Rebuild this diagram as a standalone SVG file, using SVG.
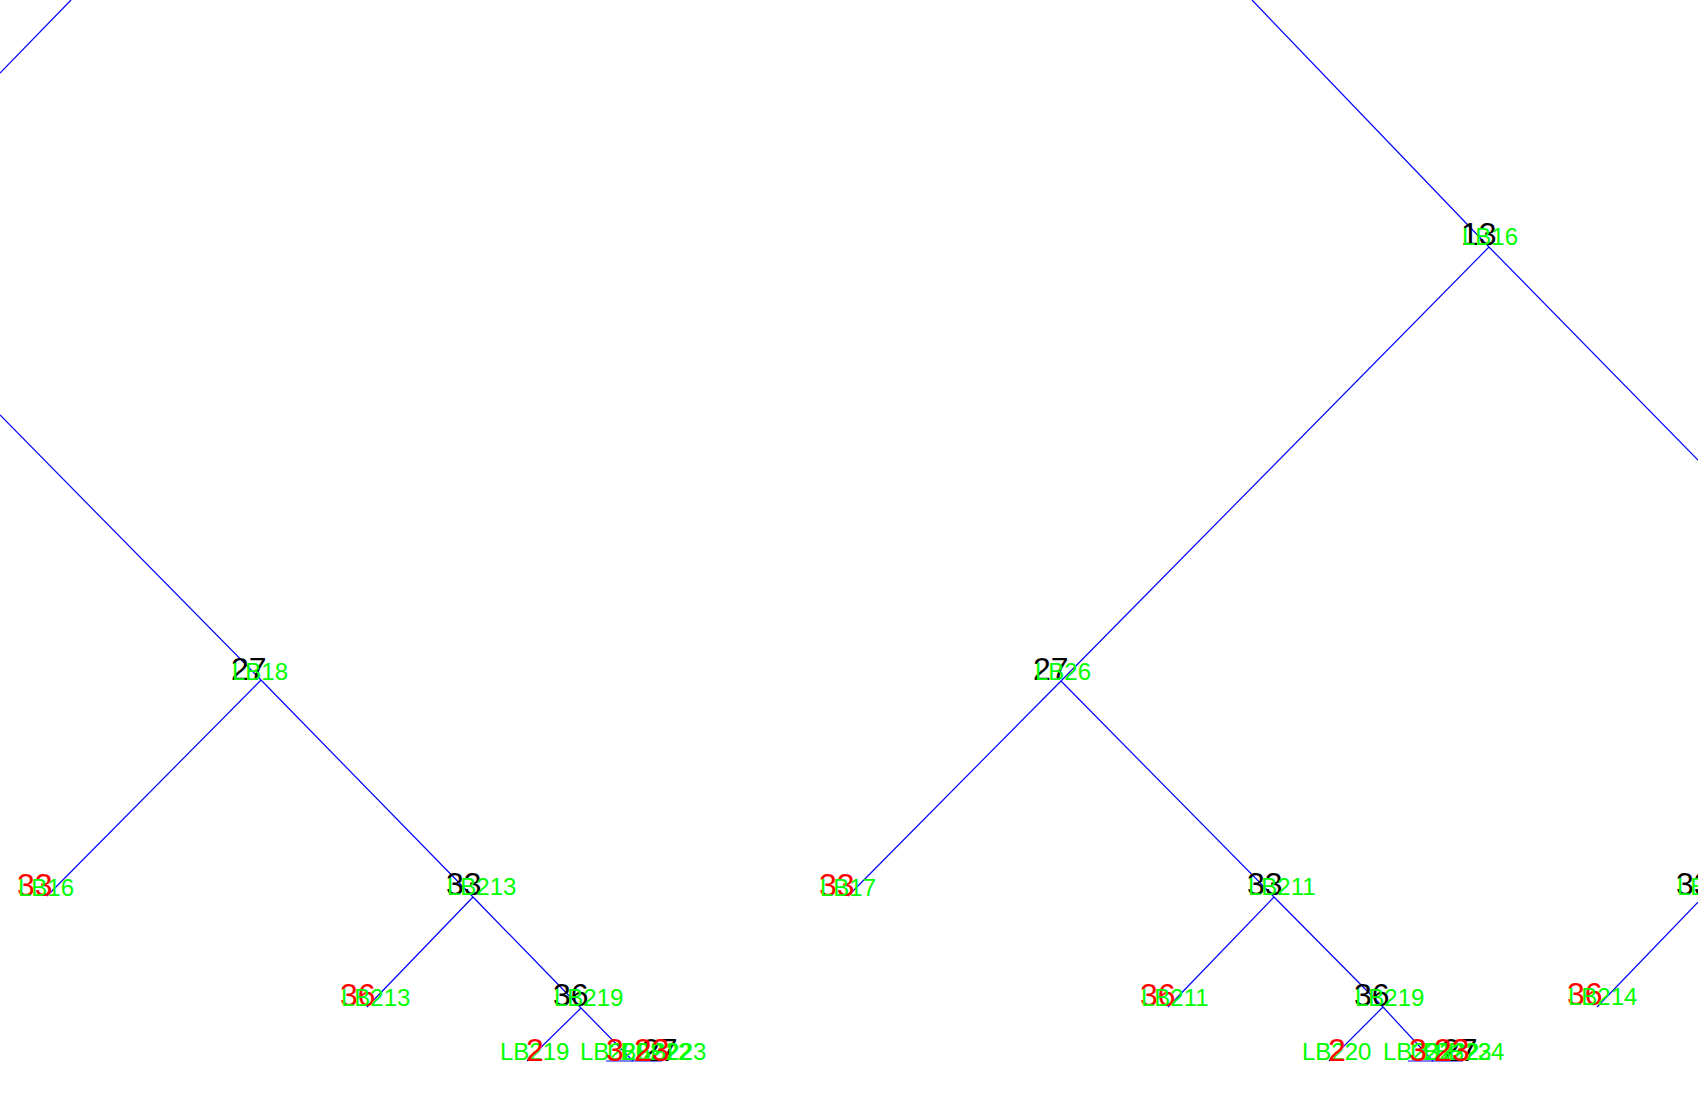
<svg xmlns="http://www.w3.org/2000/svg" width="1698" height="1104" viewBox="0 0 1698 1104">
<style>
.e{stroke:#0000ff;stroke-width:1.2;fill:none}
text{font-family:"Liberation Sans",Arial,sans-serif}
.v{fill:#000;font-size:32px}
.l{fill:#ff0000;font-size:32px}
.g{fill:#00ff00;font-size:24px}
</style>
<rect width="1698" height="1104" fill="#fff"/>
<g id="connectors">
<line class="e" x1="0" y1="73" x2="71" y2="0"/>
<line class="e" x1="0" y1="415" x2="261" y2="680"/>
<line class="e" x1="261" y1="680" x2="47" y2="896"/>
<line class="e" x1="261" y1="680" x2="473" y2="897"/>
<line class="e" x1="473" y1="897" x2="367" y2="1007"/>
<line class="e" x1="473" y1="897" x2="581" y2="1008"/>
<line class="e" x1="581" y1="1008" x2="527" y2="1061"/>
<line class="e" x1="581" y1="1008" x2="633" y2="1061"/>
<line class="e" x1="606" y1="1061" x2="662" y2="1061"/>
<line class="e" x1="1252" y1="0" x2="1489" y2="247"/>
<line class="e" x1="1489" y1="247" x2="1698" y2="460"/>
<line class="e" x1="1489" y1="247" x2="1061" y2="681"/>
<line class="e" x1="1061" y1="681" x2="848" y2="896"/>
<line class="e" x1="1061" y1="681" x2="1274" y2="897"/>
<line class="e" x1="1274" y1="897" x2="1168" y2="1007"/>
<line class="e" x1="1274" y1="897" x2="1383" y2="1007"/>
<line class="e" x1="1383" y1="1007" x2="1329" y2="1061"/>
<line class="e" x1="1383" y1="1007" x2="1433" y2="1061"/>
<line class="e" x1="1408" y1="1061" x2="1463" y2="1061"/>
<line class="e" x1="1702" y1="898" x2="1597" y2="1007"/>
</g>
<g id="n13"><text class="v" x="1461" y="245">13</text><text class="g" x="1462" y="245">LB16</text></g>
<g id="n27a"><text class="v" x="231" y="680">27</text><text class="g" x="232" y="680">LB18</text></g>
<g id="n27b"><text class="v" x="1033" y="680">27</text><text class="g" x="1035" y="680">LB26</text></g>
<g id="n33leafA"><text class="l" x="17" y="896">33</text><text class="g" x="18" y="896">LB16</text></g>
<g id="n33leafB"><text class="l" x="819" y="896">33</text><text class="g" x="820" y="896">LB17</text></g>
<g id="n33a"><text class="v" x="446" y="895">33</text><text class="g" x="447" y="895">LB213</text></g>
<g id="n33b"><text class="v" x="1247" y="895">33</text><text class="g" x="1248" y="895">LB211</text></g>
<g id="n33c"><text class="v" x="1676" y="895">33</text><text class="g" x="1677" y="895">LB214</text></g>
<g id="n36leafA"><text class="l" x="340" y="1006">36</text><text class="g" x="341" y="1006">LB213</text></g>
<g id="n36leafB"><text class="l" x="1140" y="1006">36</text><text class="g" x="1141" y="1006">LB211</text></g>
<g id="n36leafC"><text class="l" x="1567" y="1005">36</text><text class="g" x="1568" y="1005">LB214</text></g>
<g id="n36a"><text class="v" x="553" y="1006">36</text><text class="g" x="554" y="1006">LB219</text></g>
<g id="n36b"><text class="v" x="1354" y="1006">36</text><text class="g" x="1355" y="1006">LB219</text></g>
<g id="n2a"><text class="g" x="500" y="1060">LB219</text><text class="l" x="526" y="1061">2</text></g>
<g id="n2b"><text class="g" x="1302" y="1060">LB220</text><text class="l" x="1328" y="1061">2</text></g>
<g id="clusterA">
<text class="v" x="642" y="1061">27</text>
<text class="g" x="580" y="1060">LB220</text>
<text class="g" x="607" y="1060">LB221</text>
<text class="g" x="622" y="1060">LB222</text>
<text class="g" x="637" y="1060">LB223</text>
<text class="l" x="606" y="1061">3</text>
<text class="l" x="634" y="1061">23</text>
</g>
<g id="clusterB">
<text class="v" x="1442" y="1061">27</text>
<text class="g" x="1383" y="1060">LB221</text>
<text class="g" x="1410" y="1060">LB222</text>
<text class="g" x="1422" y="1060">LB223</text>
<text class="g" x="1435" y="1060">LB224</text>
<text class="l" x="1409" y="1061">3</text>
<text class="l" x="1434" y="1061">23</text>
</g>
</svg>
